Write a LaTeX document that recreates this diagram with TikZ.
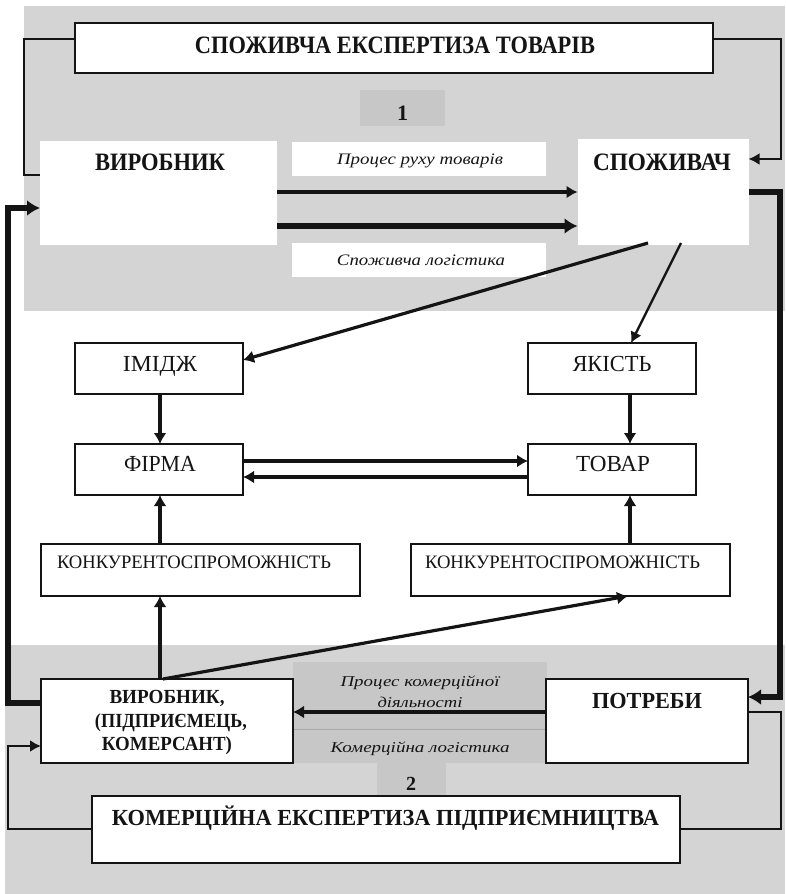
\documentclass[tikz,border=0pt]{standalone}
\usepackage{fontspec}
\usepackage{graphicx}
\setmainfont{Liberation Serif}
\usetikzlibrary{arrows.meta}
\definecolor{bgA}{RGB}{212,212,212}
\definecolor{bgB}{RGB}{199,199,199}
\definecolor{lineC}{RGB}{20,20,20}
\newcommand\fitw[2]{\resizebox{#1}{\height}{#2}}
\tikzset{
  x=1pt, y=-1pt,
  whitebox/.style={fill=white, draw=none, inner sep=0, outer sep=0},
  framebox/.style={fill=white, draw=lineC, line width=1.4pt, inner sep=0, outer sep=0},
  greybox/.style={fill=bgB, draw=none, inner sep=0, outer sep=0},
  txt/.style={inner sep=0, anchor=base, text=lineC},
  thinline/.style={draw=lineC, line width=1.2pt},
  med/.style={draw=lineC, line width=3.2pt, -{Latex[length=11pt,width=13pt]}},
  medthin/.style={draw=lineC, line width=2.4pt, -{Latex[length=11pt,width=12pt]}},
  heavy/.style={draw=lineC, line width=5.5pt, -{Latex[length=13pt,width=16pt]}},
}
\begin{document}
\begin{tikzpicture}
\useasboundingbox (0,0) rectangle (785,894);
% background regions
\fill[white] (0,0) rectangle (785,894);
\fill[bgA] (24,6) rectangle (785,311);
\fill[bgA] (5,645) rectangle (785,894);

% ---------- top block ----------
\node[framebox, minimum width=638pt, minimum height=50pt] (title1) at (394,48) {};
\node[txt, font=\fontsize{25}{25}\selectfont\bfseries] (title1t) at (395,53) {\fitw{400pt}{СПОЖИВЧА ЕКСПЕРТИЗА ТОВАРІВ}};
\node[greybox, minimum width=85pt, minimum height=36pt] (one) at (402.5,108) {};
\node[txt, font=\fontsize{22}{22}\selectfont\bfseries] (onet) at (402.5,120) {1};

\node[whitebox, minimum width=237pt, minimum height=104pt] (prod) at (158.5,193) {};
\node[txt, font=\fontsize{25}{25}\selectfont\bfseries] (prodt) at (160,170) {\fitw{130pt}{ВИРОБНИК}};
\node[whitebox, minimum width=171pt, minimum height=106pt] (cons) at (663,192) {};
\node[txt, font=\fontsize{25}{25}\selectfont\bfseries] (const) at (662,170) {\fitw{138pt}{СПОЖИВАЧ}};

\node[whitebox, minimum width=254pt, minimum height=34pt] (proc1) at (419,159) {};
\node[txt, font=\fontsize{16}{16}\selectfont\itshape] (proc1t) at (420,164) {\fitw{166pt}{Процес руху товарів}};
\node[whitebox, minimum width=254pt, minimum height=34pt] (log1) at (419,260) {};
\node[txt, font=\fontsize{16}{16}\selectfont\itshape] (log1t) at (421,265) {\fitw{168pt}{Споживча логістика}};

% ---------- middle block ----------
\node[framebox, minimum width=168pt, minimum height=51pt] (image) at (159,368.5) {};
\node[txt, font=\fontsize{23}{23}\selectfont] (imaget) at (160,371) {\fitw{74pt}{ІМІДЖ}};
\node[framebox, minimum width=168pt, minimum height=51pt] (quality) at (612,368.5) {};
\node[txt, font=\fontsize{23}{23}\selectfont] (qualityt) at (612,371) {\fitw{79pt}{ЯКІСТЬ}};
\node[framebox, minimum width=168pt, minimum height=51pt] (firm) at (159,469.5) {};
\node[txt, font=\fontsize{23}{23}\selectfont] (firmt) at (160,471.5) {\fitw{72pt}{ФІРМА}};
\node[framebox, minimum width=168pt, minimum height=51pt] (goods) at (612,469.5) {};
\node[txt, font=\fontsize{23}{23}\selectfont] (goodst) at (613,471.5) {\fitw{74pt}{ТОВАР}};
\node[framebox, minimum width=319pt, minimum height=52pt] (comp1) at (200.5,570) {};
\node[txt, font=\fontsize{19}{19}\selectfont] (comp1t) at (194,568) {\fitw{274pt}{КОНКУРЕНТОСПРОМОЖНІСТЬ}};
\node[framebox, minimum width=319pt, minimum height=52pt] (comp2) at (570.5,570) {};
\node[txt, font=\fontsize{19}{19}\selectfont] (comp2t) at (562.5,568) {\fitw{275pt}{КОНКУРЕНТОСПРОМОЖНІСТЬ}};

% ---------- bottom block ----------
\node[greybox, minimum width=254pt, minimum height=67pt] (comm1) at (420,695.5) {};
\node[greybox, minimum width=254pt, minimum height=33pt] (comm2) at (420,746.5) {};
\draw[bgA!80!black, line width=0.6pt] (comm1.south west) -- (comm1.south east);
\node[txt, font=\fontsize{15}{15}\selectfont\itshape] (comm1t) at (420,686) {\fitw{159pt}{Процес комерційної}};
\node[txt, font=\fontsize{15}{15}\selectfont\itshape] (comm1u) at (420,707) {\fitw{85pt}{діяльності}};
\node[txt, font=\fontsize{15}{15}\selectfont\itshape] (comm2t) at (420,752) {\fitw{179pt}{Комерційна логістика}};
\node[greybox, minimum width=69pt, minimum height=33pt] (two) at (411,779.5) {};
\node[txt, font=\fontsize{20}{20}\selectfont\bfseries] (twot) at (411,790) {2};

\node[framebox, minimum width=252pt, minimum height=84pt] (prod2) at (167,721) {};
\node[txt, font=\fontsize{20}{20}\selectfont\bfseries] (prod2a) at (167,703) {\fitw{115pt}{ВИРОБНИК,}};
\node[txt, font=\fontsize{20}{20}\selectfont\bfseries] (prod2b) at (171,727) {\fitw{152pt}{(ПІДПРИЄМЕЦЬ,}};
\node[txt, font=\fontsize{20}{20}\selectfont\bfseries] (prod2c) at (167,750) {\fitw{130pt}{КОМЕРСАНТ)}};
\node[framebox, minimum width=202pt, minimum height=84pt] (needs) at (647,721) {};
\node[txt, font=\fontsize{23}{23}\selectfont\bfseries] (needst) at (647,708) {\fitw{110pt}{ПОТРЕБИ}};

\node[framebox, minimum width=588pt, minimum height=67pt] (title2) at (386,829.5) {};
\node[txt, font=\fontsize{23}{23}\selectfont\bfseries] (title2t) at (385.5,825) {\fitw{547pt}{КОМЕРЦІЙНА ЕКСПЕРТИЗА ПІДПРИЄМНИЦТВА}};

% ---------- connectors ----------
\coordinate (t1w) at (title1.west |- 0,39);
\coordinate (t1e) at (title1.east |- 0,39);
\draw[thinline] (t1w) -- (24,39) -- (24,175) -- (prod.west |- 0,175);
\draw[thinline] (t1e) -- (781,39) -- (781,159) -- (771,159);
\draw[medthin] (771,159) -- (cons.east |- 0,159);

\draw[med] (prod.east |- 0,192) -- (cons.west |- 0,192);
\draw[heavy] (prod.east |- 0,226) -- (cons.west |- 0,226);

\draw[heavy] (cons.east |- 0,192) -- (780,192) -- (780,697) -- (needs.east |- 0,697);
\draw[heavy] (prod2.west |- 0,703) -- (8,703) -- (8,208) -- (prod.west |- 0,208);

\coordinate (cs1) at (648,243);
\coordinate (cs2) at (681,243);
\draw[med] (cs1) -- (image.east |- 0,360);
\draw[medthin] (cs2) -- (quality.north -| 631,0);

\draw[med] (image.south -| 160,0) -- (firm.north -| 160,0);
\draw[med] (quality.south -| 630,0) -- (goods.north -| 630,0);
\draw[med] (firm.east |- 0,461) -- (goods.west |- 0,461);
\draw[med] (goods.west |- 0,477) -- (firm.east |- 0,477);
\draw[med] (comp1.north -| 160,0) -- (firm.south -| 160,0);
\draw[med] (comp2.north -| 630,0) -- (goods.south -| 630,0);
\draw[med] (prod2.north -| 160,0) -- (comp1.south -| 160,0);
\draw[med] (prod2.north -| 163,0) -- (comp2.south -| 628,0);

\draw[med] (needs.west |- 0,712) -- (prod2.east |- 0,712);

\draw[thinline] (title2.west |- 0,829) -- (8,829) -- (8,746) -- (30,746);
\draw[medthin] (30,746) -- (prod2.west |- 0,746);
\draw[thinline] (title2.east |- 0,829) -- (781,829) -- (781,712) -- (needs.east |- 0,712);
\end{tikzpicture}
\end{document}
